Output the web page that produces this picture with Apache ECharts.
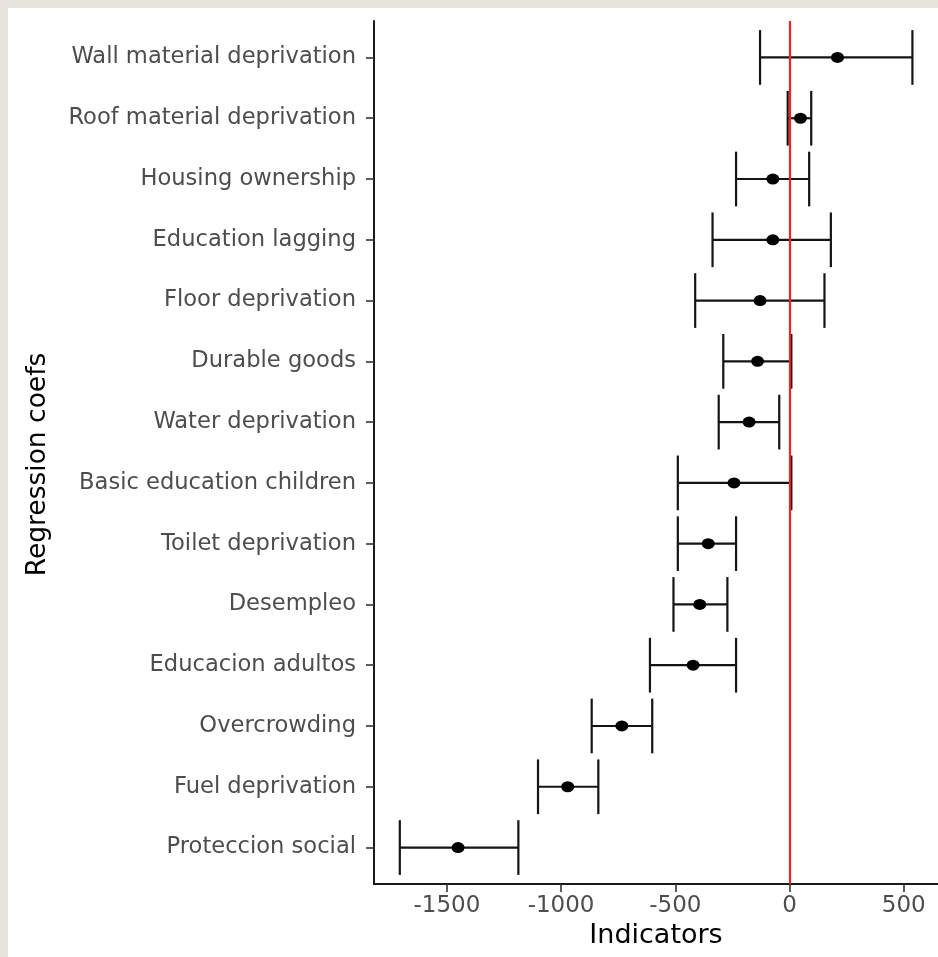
<!DOCTYPE html>
<html>
<head>
<meta charset="utf-8">
<script src="https://cdn.jsdelivr.net/npm/echarts@6/dist/echarts.min.js"></script>
<style>
  html, body { margin: 0; padding: 0; background: #e8e5de; width: 938px; height: 957px; overflow: hidden; }
  #chart { position: absolute; left: 8px; top: 8px; width: 930px; height: 949px; background: #ffffff; }
</style>
</head>
<body>
<div id="chart"></div>
<script>
const categories = [
  'Wall material deprivation',
  'Roof material deprivation',
  'Housing ownership',
  'Education lagging',
  'Floor deprivation',
  'Durable goods',
  'Water deprivation',
  'Basic education children',
  'Toilet deprivation',
  'Desempleo',
  'Educacion adultos',
  'Overcrowding',
  'Fuel deprivation',
  'Proteccion social'
];
const estimate = [210, 48, -73, -73, -129, -140, -177, -243, -356, -393, -422, -734, -971, -1451];
const lower    = [-129, -8, -234, -337, -413, -290, -310, -489, -489, -508, -611, -866, -1101, -1706];
const upper    = [538, 95, 86, 181, 153, 8, -45, 8, -234, -272, -234, -601, -837, -1187];
const xTicks = [-1500, -1000, -500, 0, 500];
const refLine = 0;

const rowIdx = categories.map((c, i) => i);
const barData = rowIdx.map(i => [i, lower[i], upper[i]]);
const pointData = rowIdx.map(i => [estimate[i], i]);

const chart = echarts.init(document.getElementById('chart'), null, { renderer: 'canvas' });
const FONT = 'DejaVu Sans';
chart.setOption({
  animation: false,
  backgroundColor: '#ffffff',
  grid: { left: 366, top: 13, right: 0, bottom: 73, containLabel: false },
  xAxis: {
    type: 'value',
    min: -1819,
    max: 650,
    name: 'Indicators',
    nameLocation: 'middle',
    nameGap: 36,
    nameTextStyle: { fontFamily: FONT, fontSize: 27, color: '#000000' },
    axisLine: { show: true, onZero: false, lineStyle: { color: '#1a1a1a', width: 2 } },
    axisTick: { show: true, length: 8, customValues: xTicks, lineStyle: { color: '#333333', width: 1.6 } },
    axisLabel: { customValues: xTicks, margin: 11, fontFamily: FONT, fontSize: 23, color: '#4d4d4d',
      formatter: v => String(v) },
    splitLine: { show: false }
  },
  yAxis: {
    type: 'value',
    inverse: true,
    min: -0.6,
    max: 13.6,
    name: 'Regression coefs',
    nameLocation: 'middle',
    nameRotate: 90,
    nameGap: 322,
    nameTextStyle: { fontFamily: FONT, fontSize: 26.5, color: '#000000', padding: [0, 24, 0, 0] },
    axisLine: { show: true, onZero: false, lineStyle: { color: '#1a1a1a', width: 2 } },
    axisTick: { show: true, length: 8, customValues: rowIdx, lineStyle: { color: '#333333', width: 1.6 } },
    axisLabel: {
      customValues: rowIdx, margin: 18, fontFamily: FONT, fontSize: 22.6, color: '#4d4d4d',
      formatter: v => categories[Math.round(v)] || ''
    },
    splitLine: { show: false }
  },
  series: [
    {
      type: 'custom',
      data: barData,
      encode: { x: [1, 2], y: 0 },
      z: 2,
      renderItem: function (params, api) {
        const y = api.value(0);
        const lo = api.coord([api.value(1), y]);
        const hi = api.coord([api.value(2), y]);
        const h = api.size([0, 1])[1] * 0.45;
        const style = { stroke: '#141414', lineWidth: 2.2 };
        return {
          type: 'group',
          children: [
            { type: 'line', shape: { x1: lo[0], y1: lo[1], x2: hi[0], y2: hi[1] }, style: style },
            { type: 'line', shape: { x1: lo[0], y1: lo[1] - h, x2: lo[0], y2: lo[1] + h }, style: style },
            { type: 'line', shape: { x1: hi[0], y1: hi[1] - h, x2: hi[0], y2: hi[1] + h }, style: style }
          ]
        };
      }
    },
    {
      type: 'scatter',
      data: pointData,
      symbol: 'circle',
      symbolSize: [13, 11],
      itemStyle: { color: '#000000', opacity: 1 },
      z: 3,
      markLine: {
        silent: true,
        symbol: ['none', 'none'],
        label: { show: false },
        lineStyle: { color: '#ff1f1f', width: 2.2, type: 'solid', opacity: 1 },
        data: [{ xAxis: refLine }],
        z: 5
      }
    }
  ]
});
</script>
</body>
</html>
